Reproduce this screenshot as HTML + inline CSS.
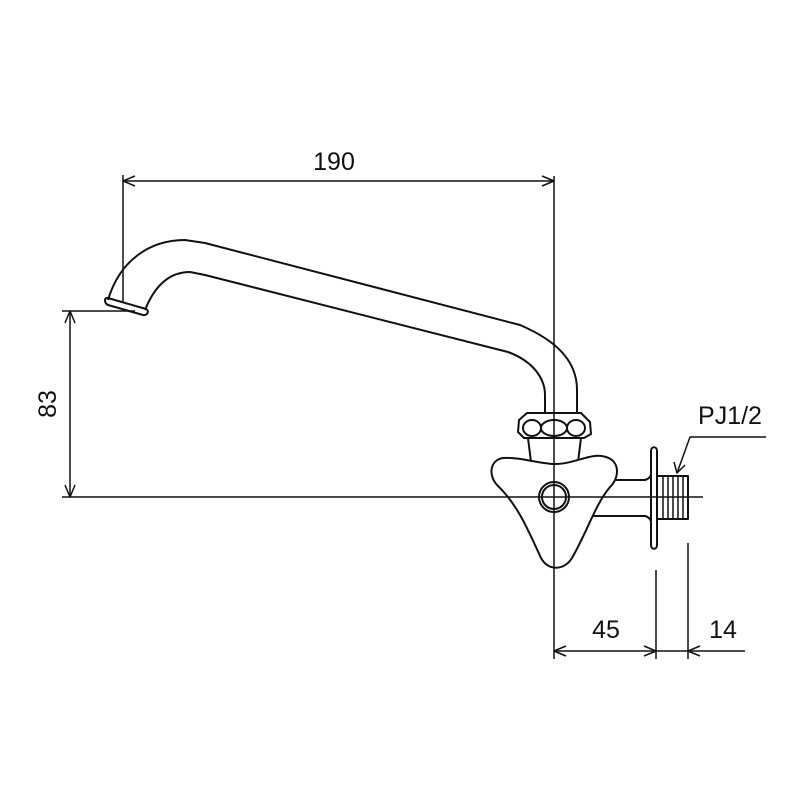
<!DOCTYPE html>
<html><head><style>body{margin:0;background:#fff}</style></head><body>
<svg width="800" height="800" viewBox="0 0 800 800" xmlns="http://www.w3.org/2000/svg" fill="none" stroke="#111" stroke-width="2" stroke-linejoin="round">
<g font-family="Liberation Sans, sans-serif" font-size="25" fill="#111" stroke="none">
<text x="334" y="170" text-anchor="middle">190</text>
<text x="606" y="638" text-anchor="middle">45</text>
<text x="723" y="638" text-anchor="middle">14</text>
<text x="730" y="424" text-anchor="middle">PJ1/2</text>
<text transform="translate(56,404) rotate(-90)" text-anchor="middle">83</text>
</g>
<g stroke-width="1.5">
<line x1="123" y1="175" x2="123" y2="302"/>
<line x1="123" y1="181" x2="554" y2="181"/>
<polyline points="135,176 123,181 135,186"/>
<polyline points="542,176 554,181 542,186"/>
<line x1="62" y1="311" x2="135" y2="311"/>
<line x1="70" y1="311" x2="70" y2="497"/>
<polyline points="65,323 70,311 75,323"/>
<polyline points="65,485 70,497 75,485"/>
<line x1="656" y1="570" x2="656" y2="659"/>
<line x1="688" y1="543" x2="688" y2="659"/>
<line x1="554" y1="651" x2="745" y2="651"/>
<polyline points="566,646 554,651 566,656"/>
<polyline points="644,646 656,651 644,656"/>
<polyline points="700,646 688,651 700,656"/>
<polyline points="766,437 690,437 677,473"/>
<polyline points="674,462 677,473 685,465"/>
</g>
<path d="M108,300 C120,260 150,240 185,240 L205,243 L520,325 C555,340 577,360 577,390 L577,413"/>
<path d="M145,310 C155,285 170,272 190,272 L205,275 L508,352 C535,362 545,380 545,395 L545,413"/>
<path d="M108,298 L146,309 C150,311 147,316 143,315 L108,305 C104,303 104,297 108,298 Z"/>
<path d="M527,413 L581,413 L590,422 L591,434 L584,438 L524,438 L518,432 L519,420 Z"/>
<ellipse cx="532" cy="428" rx="9" ry="8"/>
<ellipse cx="554" cy="428" rx="13" ry="8"/>
<ellipse cx="576" cy="428" rx="9" ry="8"/>
<path d="M528,438 L581,438 M528,438 L531,462 M581,438 L578,462"/>
<path d="M616,480 L645,480 C649,479 651,476 651,474 M582,516 L645,516 C649,517 651,520 651,522"/>
<path fill="#fff" d="M503,458 C520,457 540,464 555,464 C575,464 592,452 606,457 C622,462 618,480 610,487 C595,505 588,530 572,558 C564,571 548,571 541,558 C528,530 518,505 497,485 C488,475 490,460 503,458 Z"/>
<circle cx="554" cy="497" r="15"/>
<circle cx="554" cy="497" r="12"/>
<path d="M651,451 C651,446 657,446 657,451 L657,545 C657,550 651,550 651,545 Z"/>
<rect x="657" y="476" width="31" height="43"/>
<g stroke-width="1.5"><line x1="663" y1="476" x2="663" y2="519"/><line x1="668" y1="476" x2="668" y2="519"/><line x1="673" y1="476" x2="673" y2="519"/><line x1="678" y1="476" x2="678" y2="519"/><line x1="683" y1="476" x2="683" y2="519"/></g>
<g stroke-width="1.5">
<line x1="554" y1="176" x2="554" y2="659"/>
<line x1="62" y1="497" x2="703" y2="497"/>
</g>
</svg>
</body></html>
